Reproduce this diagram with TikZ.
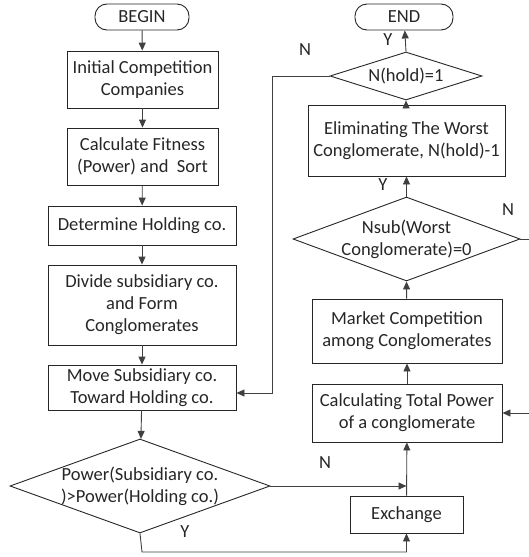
\documentclass[tikz,border=0pt]{standalone}
\usepackage{fontspec}
\setmainfont{Carlito}
\usetikzlibrary{arrows.meta,shapes.geometric}
\definecolor{LineGray}{HTML}{404040}
\definecolor{DarkText}{HTML}{262626}
\tikzset{
  box/.style={draw=DarkText, line width=0.9pt, align=center, inner sep=2pt, text=DarkText},
  term/.style={draw=DarkText, line width=0.9pt, rounded corners=12pt, text=DarkText},
  dia/.style={diamond, draw=DarkText, line width=0.9pt, inner sep=0pt},
  arr/.style={-{Triangle[length=8pt,width=7pt]}, line width=0.9pt, draw=LineGray},
  lbl/.style={text=DarkText}
}

\begin{document}
\begin{tikzpicture}[x=1pt,y=-1pt,font=\fontsize{18.5}{22}\selectfont]
\useasboundingbox (0,0) rectangle (529,557);
% left column
\node[term, minimum width=94, minimum height=26] (begin) at (142,17) {BEGIN};
\node[box, minimum width=151, minimum height=57] (init) at (142.5,79.5) {Initial Competition\\Companies};
\node[box, minimum width=151, minimum height=57] (fit) at (142.5,156.5) {Calculate Fitness\\(Power) and\ \ Sort};
\node[box, minimum width=188, minimum height=39] (hold) at (142,225.5) {Determine Holding co.};
\node[box, minimum width=188, minimum height=80] (divide) at (142,305) {Divide subsidiary co.\\and Form\\Conglomerates};
\node[box, minimum width=188, minimum height=45] (move) at (142,387.5) {Move Subsidiary co.\\Toward Holding co.};
\node[dia, minimum width=260, minimum height=94] (power) at (140,486) {};
\node[lbl, align=center] at (power) {Power(Subsidiary co.\\)>Power(Holding co.)};
% right column
\node[box, minimum width=113, minimum height=37] (exch) at (406.5,514.5) {Exchange};
\node[box, minimum width=190, minimum height=58] (total) at (407,413) {Calculating Total Power\\of a conglomerate};
\node[box, minimum width=190, minimum height=64] (market) at (407,331) {Market Competition\\among Conglomerates};
\node[dia, minimum width=227, minimum height=84] (nsub) at (406.5,239) {};
\node[lbl, align=center] at (nsub) {Nsub(Worst\\Conglomerate)=0};
\node[box, minimum width=197, minimum height=71] (elim) at (406.5,140.5) {Eliminating The Worst\\Conglomerate, N(hold)-1};
\node[dia, minimum width=152, minimum height=48] (nhold) at (406,76) {};
\node[lbl] at (nhold) {N(hold)=1};
\node[term, minimum width=98, minimum height=26] (end) at (404,17) {END};
% turning points
\coordinate (nturn) at (272,393);
\coordinate (yturn) at (142,552);
\coordinate (sturn) at (532,239);
% arrows
\draw[arr] (begin) -- (init);
\draw[arr] (init) -- (fit);
\draw[arr] (fit) -- (hold);
\draw[arr] (hold) -- (divide);
\draw[arr] (divide) -- (move);
\draw[arr] (move) -- (power);
\draw[arr] (power.east) -- (power.east -| exch);
\draw[arr] (power.south) -- (yturn) -| (exch.south);
\draw[arr] (exch) -- (total);
\draw[arr] (total) -- (market);
\draw[arr] (market) -- (nsub.south);
\draw[arr] (nsub.north) -- (elim);
\draw[arr] (elim) -- (nhold.south);
\draw[arr] (nhold.north) -- (end);
\draw[arr] (nsub.east) -- (sturn) |- (total.east);
\draw[arr] (nhold.west) -| (nturn) -- (nturn -| move.east);
% labels
\node[lbl] at (305,50) {N};
\node[lbl] at (388,40) {Y};
\node[lbl] at (383,185) {Y};
\node[lbl] at (508,210) {N};
\node[lbl] at (325,463) {N};
\node[lbl] at (185,532) {Y};
\end{tikzpicture}
\end{document}
